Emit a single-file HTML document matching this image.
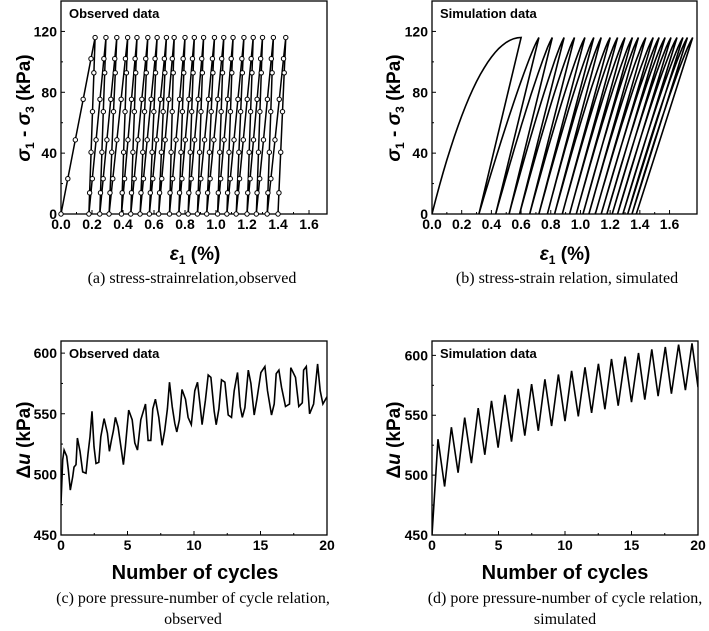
<!DOCTYPE html>
<html><head><meta charset="utf-8"><style>
body{margin:0;background:#fff;width:709px;height:631px;overflow:hidden}
svg{display:block}
.t{font-family:"Liberation Sans",Arial,sans-serif;font-weight:bold;font-size:14px;fill:#000}
.lb{font-family:"Liberation Sans",Arial,sans-serif;font-weight:bold;font-size:13px;fill:#000}
.cap{font-family:"Liberation Serif",serif;font-size:16px;fill:#000}
.ttl{font-family:"Liberation Sans",Arial,sans-serif;font-weight:bold;font-size:19px;fill:#000}
</style></head><body>
<svg id="s" width="709" height="631"></svg>
<script>
// panel (a) observed stress-strain
const peaksA=[0.22,0.29,0.36,0.43,0.49,0.56,0.62,0.68,0.73,0.80,0.86,0.92,0.99,1.05,1.11,1.18,1.24,1.30,1.37,1.45];
const bottomsA=[0.18,0.25,0.31,0.39,0.45,0.51,0.57,0.63,0.70,0.76,0.82,0.88,0.94,1.01,1.07,1.13,1.20,1.26,1.33,1.40];
const peakStressA=116;
// panel (b) simulated stress-strain
const peaksB=[0.60,0.72,0.81,0.89,0.96,1.03,1.09,1.14,1.20,1.25,1.30,1.35,1.39,1.44,1.49,1.53,1.57,1.61,1.65,1.69,1.72,1.756];
const endsB=[0.316,0.429,0.519,0.59,0.658,0.72,0.777,0.826,0.878,0.927,0.972,1.017,1.057,1.10,1.14,1.178,1.214,1.25,1.286,1.318,1.347,1.376];
const peakStressB=116;
// panel (c) observed pore pressure
const cycC=[0,0.13,0.23,0.43,0.55,0.7,0.88,0.98,1.13,1.23,1.43,1.63,1.88,2.03,2.18,2.33,2.48,2.63,2.84,2.99,3.24,3.49,3.64,3.79,3.94,4.09,4.29,4.54,4.69,4.84,5.09,5.35,5.55,5.75,6.0,6.35,6.55,6.75,6.9,7.1,7.35,7.6,7.8,8.0,8.16,8.36,8.56,8.71,8.9,9.1,9.36,9.56,9.8,10.06,10.26,10.46,10.61,10.86,11.07,11.27,11.52,11.67,11.87,12.07,12.32,12.57,12.82,13.02,13.27,13.47,13.63,13.83,14.08,14.28,14.53,14.73,15.03,15.33,15.53,15.83,16.03,16.18,16.38,16.58,16.88,17.18,17.28,17.63,17.88,18.14,18.24,18.44,18.69,18.99,19.29,19.49,19.69,20];
const puC=[476,512,520,515,504,487,498,506,508,530,519,502,501,517,531,552,523,509,510,531,546,534,519,528,536,547,539,520,508,523,553,545,526,520,545,558,528,528,554,562,547,524,536,554,576,556,542,535,545,570,562,547,541,569,576,557,541,561,582,580,552,541,554,578,576,549,547,569,584,556,547,555,586,575,549,562,584,589,569,549,558,583,586,572,556,558,588,580,556,559,586,589,550,558,591,569,558,564];
// panel (d) simulated pore pressure
const cycD=[0,0.45,0.95,1.46,1.96,2.46,2.96,3.47,3.97,4.47,4.97,5.48,5.98,6.48,6.98,7.49,7.99,8.49,8.99,9.5,10.0,10.5,11.0,11.5,12.0,12.51,13.0,13.5,14.0,14.52,15.0,15.53,16.0,16.53,17.0,17.54,18.0,18.54,19.05,19.55,20];
const puD=[450,530,490.5,540,502,548,510,556,517,562,523,567,528,572,533,576,537,580,541,584,545,587,549,590,552,593,555,597,558,599,561,602,563,605,566,607,568,609,571,610,573.5];
const xTicksS=["0.0","0.2","0.4","0.6","0.8","1.0","1.2","1.4","1.6"];
const yTicksS=[0,40,80,120];
const xTicksN=[0,5,10,15,20];
const yTicksN=[450,500,550,600];

const S=document.getElementById('s');
const NS='http://www.w3.org/2000/svg';
function mk(tag,at,parent){const e=document.createElementNS(NS,tag);for(const k in at)e.setAttribute(k,at[k]);(parent||S).appendChild(e);return e;}
function txt(x,y,s,cls,anchor,parent){const e=mk('text',{x:x,y:y,class:cls,'text-anchor':anchor||'middle'},parent);e.textContent=s;return e;}

function panel(o){
  const g=mk('g',{});
  
  
  const X=v=>o.L+(v-o.x0)/(o.x1-o.x0)*(o.R-o.L);
  const Y=v=>o.B-(v-o.y0)/(o.y1-o.y0)*(o.B-o.T);
  const clip=mk('clipPath',{id:'c'+o.name},g);mk('rect',{x:o.L,y:o.T,width:o.R-o.L,height:o.B-o.T},clip);
  const frame=mk('rect',{x:o.L,y:o.T,width:o.R-o.L,height:o.B-o.T,fill:'none',stroke:'#000','stroke-width':1.3},g);
  
  o.xt.forEach(t=>{const v=parseFloat(t);const x=X(v);
    mk('line',{x1:x,y1:o.B,x2:x,y2:o.B-4,stroke:'#000','stroke-width':1},g);
    const l=txt(x,o.B+15,String(t),'t','middle',g);});
  for(let i=0;i<o.xt.length-1;i++){const m=(parseFloat(o.xt[i])+parseFloat(o.xt[i+1]))/2;if(m<o.x1)mk('line',{x1:X(m),y1:o.B,x2:X(m),y2:o.B-2,stroke:'#000'},g);}
  o.yt.forEach(v=>{const y=Y(v);
    mk('line',{x1:o.L,y1:y,x2:o.L+4,y2:y,stroke:'#000'},g);
    const l=txt(o.L-4,y+5,String(v),'t','end',g);});
  for(let i=0;i<o.yt.length-1;i++){const m=(o.yt[i]+o.yt[i+1])/2;mk('line',{x1:o.L,y1:Y(m),x2:o.L+2,y2:Y(m),stroke:'#000'},g);}
  const lab=txt(o.L+8,o.T+17,o.label,'lb','start',g);
  return {g,X,Y,clip:'url(#c'+o.name+')'};
}

// (a)
{const p=panel({name:'panel-a',L:61,R:327,T:1,B:214,x0:0,x1:1.716,y0:0,y1:140,xt:xTicksS,yt:yTicksS,label:'Observed data'});
 let pts=[[0,0]];
 const add=(xa,ya,xb,yb)=>{[0.2,0.42,0.65,0.88,1].forEach(f=>pts.push([xa+(xb-xa)*f,ya+(yb-ya)*f]));};
 add(0,0,peaksA[0],peakStressA);
 for(let i=0;i<peaksA.length;i++){add(peaksA[i],peakStressA,bottomsA[i],0);if(i+1<peaksA.length)add(bottomsA[i],0,peaksA[i+1],peakStressA);}
 const d=pts.map((q,i)=>(i?'L':'M')+p.X(q[0]).toFixed(1)+','+p.Y(q[1]).toFixed(1)).join('');
 const ln=mk('path',{d:d,fill:'none',stroke:'#000','stroke-width':1.5,'clip-path':p.clip},p.g);
 
 pts.forEach(q=>{const c=mk('circle',{cx:p.X(q[0]),cy:p.Y(q[1]),r:2.2,fill:'#fff',stroke:'#000','stroke-width':1},p.g);
   });
}
// (b)
{const p=panel({name:'panel-b',L:432,R:697,T:1,B:214,x0:0,x1:1.785,y0:0,y1:140,xt:xTicksS,yt:yTicksS,label:'Simulation data'});
 let d='';
 const load=(xa,xb,k,first)=>{for(let s=0;s<=24;s++){const t=s/24;const x=xa+(xb-xa)*t;const y=peakStressB*(1-Math.pow(1-t,k));d+=(first&&s===0?'M':'L')+p.X(x).toFixed(1)+','+p.Y(y).toFixed(1);}};
 load(0,peaksB[0],2.0,true);
 for(let i=0;i<peaksB.length;i++){d+='L'+p.X(endsB[i]).toFixed(1)+','+p.Y(0).toFixed(1);if(i+1<peaksB.length)load(endsB[i],peaksB[i+1],1.15,false);}
 const ln=mk('path',{d:d,fill:'none',stroke:'#000','stroke-width':1.6,'stroke-linejoin':'miter','clip-path':p.clip},p.g);
 
}
// (c)
{const p=panel({name:'panel-c',L:61,R:327,T:341,B:535,x0:0,x1:20,y0:450,y1:610,xt:xTicksN,yt:yTicksN,label:'Observed data'});
 const d=cycC.map((c,i)=>(i?'L':'M')+p.X(c).toFixed(1)+','+p.Y(puC[i]).toFixed(1)).join('');
 const ln=mk('path',{d:d,fill:'none',stroke:'#000','stroke-width':1.6,'clip-path':p.clip},p.g);
 
}
// (d)
{const p=panel({name:'panel-d',L:432,R:698,T:341,B:535,x0:0,x1:20,y0:450,y1:612,xt:xTicksN,yt:yTicksN,label:'Simulation data'});
 const d=cycD.map((c,i)=>(i?'L':'M')+p.X(c).toFixed(1)+','+p.Y(puD[i]).toFixed(1)).join('');
 const ln=mk('path',{d:d,fill:'none',stroke:'#000','stroke-width':1.6,'clip-path':p.clip},p.g);
 
}
</script>
<svg width="709" height="631" style="position:absolute;left:0;top:0">
<g class="ttl">
<text x="195" y="260" text-anchor="middle"><tspan font-style="italic">ε</tspan><tspan font-size="12" dy="4">1</tspan><tspan dy="-4"> (%)</tspan></text>
<text x="565" y="260" text-anchor="middle"><tspan font-style="italic">ε</tspan><tspan font-size="12" dy="4">1</tspan><tspan dy="-4"> (%)</tspan></text>
<text transform="translate(30,108) rotate(-90)" text-anchor="middle"><tspan font-style="italic">σ</tspan><tspan font-size="12" dy="4">1</tspan><tspan dy="-4"> - </tspan><tspan font-style="italic">σ</tspan><tspan font-size="12" dy="4">3</tspan><tspan dy="-4"> (kPa)</tspan></text>
<text transform="translate(400,108) rotate(-90)" text-anchor="middle"><tspan font-style="italic">σ</tspan><tspan font-size="12" dy="4">1</tspan><tspan dy="-4"> - </tspan><tspan font-style="italic">σ</tspan><tspan font-size="12" dy="4">3</tspan><tspan dy="-4"> (kPa)</tspan></text>
<text x="195" y="579" text-anchor="middle" font-size="20">Number of cycles</text>
<text x="565" y="579" text-anchor="middle" font-size="20">Number of cycles</text>
<text transform="translate(30,440) rotate(-90)" text-anchor="middle">Δ<tspan font-style="italic">u</tspan> (kPa)</text>
<text transform="translate(400,440) rotate(-90)" text-anchor="middle">Δ<tspan font-style="italic">u</tspan> (kPa)</text>
</g>
<g class="cap">
<text x="192" y="283" text-anchor="middle">(a) stress-strainrelation,observed</text>
<text x="567" y="283" text-anchor="middle">(b) stress-strain relation, simulated</text>
<text x="193" y="603" text-anchor="middle">(c) pore pressure-number of cycle relation,</text>
<text x="193" y="624" text-anchor="middle">observed</text>
<text x="565" y="603" text-anchor="middle">(d) pore pressure-number of cycle relation,</text>
<text x="565" y="624" text-anchor="middle">simulated</text>
</g>
</svg>
</body></html>
